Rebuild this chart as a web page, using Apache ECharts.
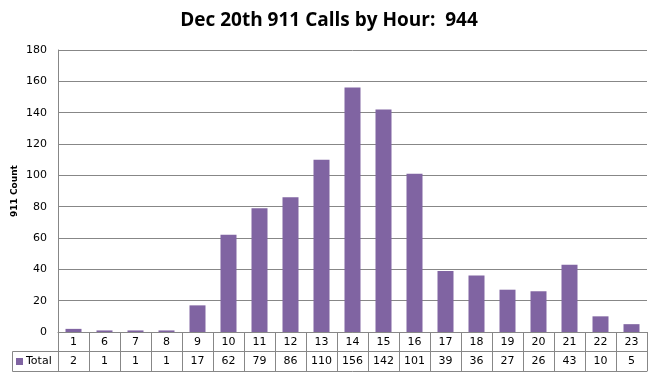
<!DOCTYPE html>
<html>
<head>
<meta charset="utf-8">
<script src="https://cdn.jsdelivr.net/npm/echarts@6/dist/echarts.min.js"></script>
<style>
html,body{margin:0;padding:0;background:#fff;}
#main{width:658px;height:380px;}
</style>
</head>
<body>
<div id="main"></div>
<script>
// hours of the day that had calls
var hours = ['1','6','7','8','9','10','11','12','13','14','15','16','17','18','19','20','21','22','23'];
// calls per hour
var totals = [2,1,1,1,17,62,79,86,110,156,142,101,39,36,27,26,43,10,5];
var seriesName = 'Total';
var titleText = 'Dec 20th 911 Calls by Hour:  944';

var purple = '#8064A2';
var lineGray = '#878787';
var tableFont = 'Verdana, "DejaVu Sans", sans-serif';

var chart = echarts.init(document.getElementById('main'));

var option = {
	animation: false,
	title: {
		text: titleText,
		left: 'center',
		top: 6,
		textStyle: {
			fontFamily: '"Open Sans", sans-serif',
			fontWeight: 'bold',
			fontSize: 19,
			color: '#000'
		}
	},
	grid: {
		left: 58,
		right: 11,
		top: 50,
		bottom: 48,
		outerBoundsMode: 'none',
		containLabel: false
	},
	xAxis: [{
		type: 'category',
		data: hours,
		position: 'bottom',
		axisLine: {lineStyle: {color: lineGray, width: 1}},
		axisTick: {show: true, length: 39, lineStyle: {color: lineGray}},
		axisLabel: {
			margin: 5,
			color: '#000',
			fontFamily: tableFont,
			fontSize: 11,
			interval: 0
		}
	}, {
		type: 'category',
		data: totals.map(String),
		position: 'bottom',
		offset: 19,
		axisLine: {lineStyle: {color: lineGray, width: 1}},
		axisTick: {show: false},
		axisLabel: {
			margin: 5,
			color: '#000',
			fontFamily: tableFont,
			fontSize: 11,
			interval: 0
		}
	}, {
		type: 'category',
		data: hours,
		position: 'bottom',
		offset: 39,
		axisLine: {lineStyle: {color: lineGray, width: 1}},
		axisTick: {show: false},
		axisLabel: {show: false}
	}],
	yAxis: {
		type: 'value',
		min: 0,
		max: 180,
		interval: 20,
		name: '911 Count',
		nameLocation: 'middle',
		nameGap: 39,
		nameRotate: 90,
		nameMoveOverlap: false,
		nameTextStyle: {
			fontFamily: 'Verdana, "DejaVu Sans", sans-serif',
			fontWeight: 'bold',
			fontSize: 9,
			color: '#000'
		},
		axisLine: {show: true, lineStyle: {color: lineGray}},
		axisTick: {show: false},
		axisLabel: {
			margin: 11,
			color: '#000',
			fontFamily: tableFont,
			fontSize: 11
		},
		splitLine: {lineStyle: {color: lineGray, width: 1}}
	},
	series: [{
		name: seriesName,
		type: 'bar',
		data: totals,
		barWidth: 16,
		itemStyle: {color: purple}
	}]
};
chart.setOption(option);

// legend cell of the data table ("Total" row header)
var x0 = chart.convertToPixel({xAxisIndex: 0}, hours[0]);
var step = chart.convertToPixel({xAxisIndex: 0}, hours[1]) - x0;
var leftEdge = Math.round(x0 - step / 2);
var axisY = chart.convertToPixel({yAxisIndex: 0}, 0);
var rowTop = axisY + 19, rowBottom = axisY + 39;
var cellLeft = 12;

chart.setOption({
	graphic: [{
		type: 'rect',
		shape: {x: cellLeft + 0.5, y: rowTop + 0.5, width: leftEdge - cellLeft, height: rowBottom - rowTop},
		style: {fill: 'none', stroke: lineGray, lineWidth: 1}
	}, {
		type: 'rect',
		shape: {x: cellLeft + 4, y: rowTop + 7, width: 7, height: 7},
		style: {fill: purple}
	}, {
		type: 'text',
		x: cellLeft + 14,
		y: rowTop + 10,
		style: {
			text: seriesName,
			fill: '#000',
			font: '11px ' + tableFont,
			verticalAlign: 'middle'
		}
	}]
});
</script>
</body>
</html>
